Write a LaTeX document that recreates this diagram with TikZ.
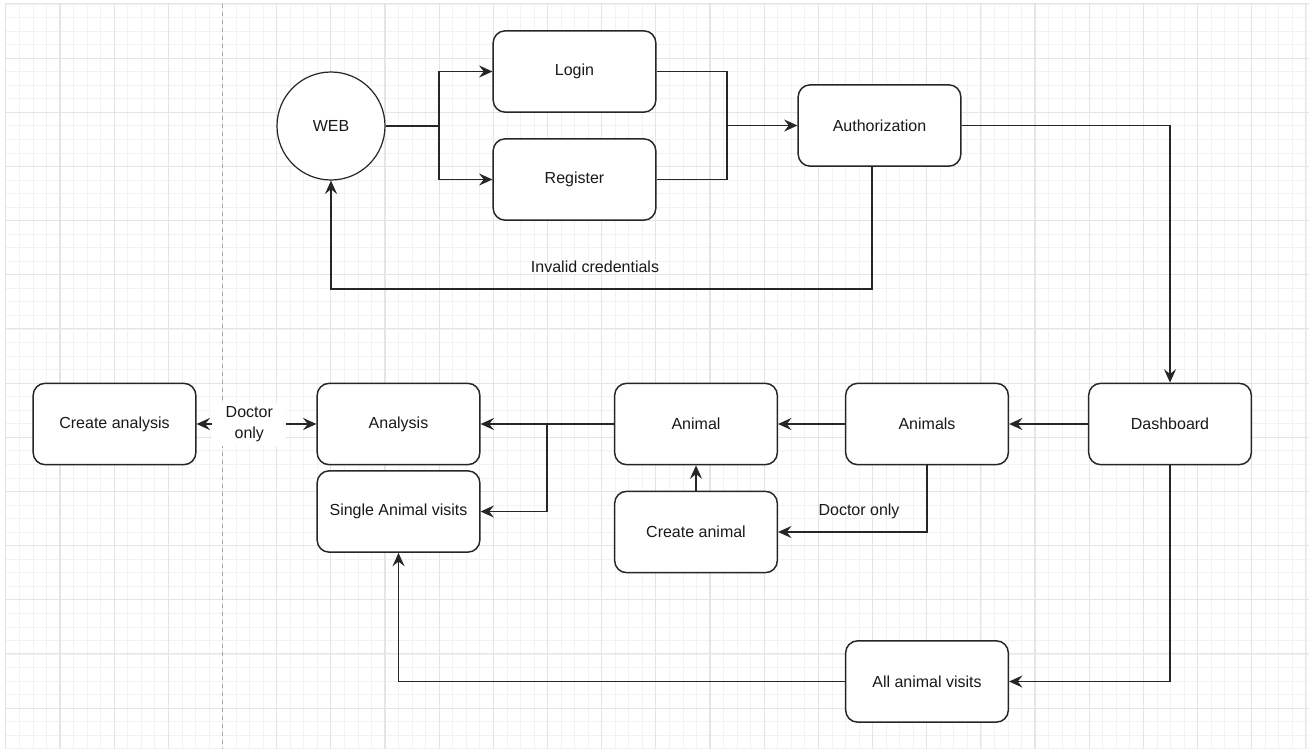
\documentclass[tikz,border=0pt]{standalone}
\usepackage{fontspec}
\setmainfont{Liberation Sans}
\usetikzlibrary{arrows.meta}
\begin{document}
\begin{tikzpicture}[x=0.75pt,y=-0.75pt,
  txt/.style={font=\fontsize{12}{15.5}\selectfont, text=black!90},
  box/.style={txt, draw=black!85, line width=1.1pt, fill=white, rounded corners=9pt,
    minimum width=122pt, minimum height=61pt, inner sep=0pt},
  webnode/.style={txt, circle, draw=black!85, line width=0.9pt, fill=white, minimum size=81pt, inner sep=0pt},
  plain/.style={draw=black!85, line width=1.2pt},
  tip/.tip={Stealth[length=10pt,width=9pt,inset=3.5pt]},
  conn/.style={plain, -tip},
  lbl/.style={txt},
  minorline/.style={draw=black!5, line width=0.5pt},
  majorline/.style={draw=black!10, line width=0.8pt}]
\useasboundingbox (0,0) rectangle (1309,749);
\fill[white] (0,0) rectangle (1309,749);
% grid
\foreach \i in {0,...,96} {
  \pgfmathsetmacro{\xx}{5.8+\i*13.542}
  \draw[minorline] (\xx,4) -- (\xx,749);
}
\foreach \j in {0,...,55} {
  \pgfmathsetmacro{\yy}{3.9+\j*13.542}
  \draw[minorline] (5,\yy) -- (1309,\yy);
}
\foreach \i in {0,...,24} {
  \pgfmathsetmacro{\xx}{5.8+\i*54.168}
  \draw[majorline] (\xx,4) -- (\xx,749);
}
\foreach \j in {0,...,13} {
  \pgfmathsetmacro{\yy}{3.9+\j*54.168}
  \draw[majorline] (5,\yy) -- (1309,\yy);
}
\draw[draw=black!35, line width=0.7pt, dashed] (222,4) -- (222,749);

% nodes
\node[webnode] (web) at (331,126) {WEB};
\node[box] (login) at (574.5,71.5) {Login};
\node[box] (register) at (574.5,179.5) {Register};
\node[box] (auth) at (879.5,125.5) {Authorization};
\node[box] (dash) at (1170,424) {Dashboard};
\node[box] (animals) at (927,424) {Animals};
\node[box] (animal) at (696,424) {Animal};
\node[box] (analysis) at (398.5,424) {Analysis};
\node[box] (canalysis) at (114.5,424) {Create analysis};
\node[box] (single) at (398.5,511.5) {Single Animal visits};
\node[box] (canimal) at (696,532) {Create animal};
\node[box] (allvisits) at (927,681.5) {All animal visits};

% connectors
\coordinate (s1) at (439,126);
\draw[plain] (web.east) -- (s1);
\draw[conn] (s1) |- (login.west);
\draw[conn] (s1) |- (register.west);
\coordinate (j1) at (727,125.5);
\draw[plain] (login.east) -| (j1);
\draw[plain] (register.east) -| (j1);
\draw[conn] (j1) -- (auth.west);

\coordinate (a1) at (872,289);
\draw[conn] (auth.south -| a1) -- (a1) -| (web.south);
\node[lbl] (inv) at (595,267) {Invalid credentials};

\draw[conn] (auth.east) -| (dash.north);
\draw[conn] (dash.west) -- (animals.east);
\draw[conn] (animals.west) -- (animal.east);
\draw[conn] (animal.west) -- (analysis.east);
\coordinate (b1) at (547,424);
\draw[conn] (b1) |- (single.east);
\draw[conn] (canimal.north) -- (animal.south);
\draw[conn] (animals.south) |- (canimal.east);
\node[lbl] (doc2) at (859,511) {Doctor only};
\draw[conn] (dash.south) |- (allvisits.east);
\draw[conn] (allvisits.west) -| (single.south);

\draw[plain, tip-tip]
  (canalysis.east) -- node[pos=0.44, txt, fill=white, align=center, inner xsep=10pt, inner ysep=3pt] (doc1) {Doctor\\only} (analysis.west);
\end{tikzpicture}
\end{document}
